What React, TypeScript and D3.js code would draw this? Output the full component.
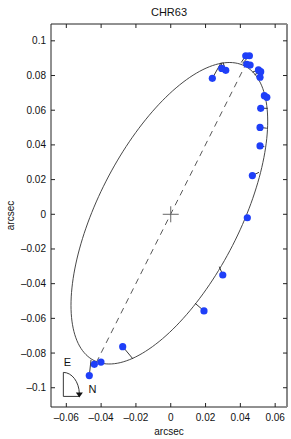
import React from 'react';
import * as d3 from 'd3';

// observed positions (arcsec)
const obsX = [0.0239, 0.0293, 0.0316, 0.0431, 0.0452, 0.0437, 0.0456, 0.0504, 0.0517, 0.0513, 0.0538, 0.0552,
  0.0517, 0.0513, 0.0513, 0.0469, 0.0440, 0.0299, 0.0191, -0.0276, -0.0401, -0.0439, -0.0468];
const obsY = [0.0784, 0.0841, 0.0830, 0.0914, 0.0914, 0.0865, 0.0860, 0.0832, 0.0822, 0.0790, 0.0684, 0.0674,
  0.0611, 0.0501, 0.0394, 0.0223, -0.0020, -0.0350, -0.0557, -0.0763, -0.0852, -0.0865, -0.0930];
// predicted positions on the orbit (residual line ends)
const predX = [0.0287, 0.0290, 0.0300, 0.0405, 0.0412, 0.0418, 0.0440, 0.0470, 0.0482, 0.0495, 0.0545, 0.0548,
  0.0557, 0.0552, 0.0538, 0.0507, 0.0425, 0.0279, 0.0140, -0.0217, -0.0395, -0.0450, -0.0458];
const predY = [0.0870, 0.0874, 0.0876, 0.0875, 0.0870, 0.0868, 0.0860, 0.0820, 0.0805, 0.0785, 0.0690, 0.0670,
  0.0611, 0.0496, 0.0390, 0.0242, -0.0015, -0.0302, -0.0513, -0.0834, -0.0862, -0.0850, -0.0839];

// apparent orbit: centre, semi-axes, position angle of major axis (deg from +x)
const orbitCenter = [-0.0008, 0.0006];
const orbitAxes = [0.0953, 0.0408];
const orbitAngle = 63.0;
// line of nodes end points
const nodesX = [-0.0428, 0.0428];
const nodesY = [-0.0855, 0.0858];

const xTicks = [-0.06, -0.04, -0.02, 0, 0.02, 0.04, 0.06];
const yTicks = [-0.1, -0.08, -0.06, -0.04, -0.02, 0, 0.02, 0.04, 0.06, 0.08, 0.1];

const W = 291, H = 439;
const m = { left: 51, right: 287, top: 24, bottom: 407 };
const font = 'Liberation Sans, Arial, sans-serif';

const fmt = (v: number) => {
  if (Math.abs(v) < 1e-9) return '0';
  const s = String(+Math.abs(v).toFixed(2));
  return (v < 0 ? '\u2013' : '') + s;
};

export default function App() {
  const x = d3.scaleLinear().domain([-0.0688, 0.0668]).range([m.left, m.right]);
  const y = d3.scaleLinear().domain([-0.1111, 0.1097]).range([m.bottom, m.top]);

  const th = (orbitAngle * Math.PI) / 180;
  const ts = d3.range(0, 361, 2).map(d => (d * Math.PI) / 180);
  const orbitPts: [number, number][] = ts.map(t => {
    const u = orbitAxes[0] * Math.cos(t), v = orbitAxes[1] * Math.sin(t);
    return [orbitCenter[0] + u * Math.cos(th) - v * Math.sin(th), orbitCenter[1] + u * Math.sin(th) + v * Math.cos(th)];
  });
  const line = d3.line<[number, number]>().x(d => x(d[0])).y(d => y(d[1]));

  const tl = 4;
  // compass origin
  const cx = x(-0.0617), cy = y(-0.105);

  return (
    <svg width={W} height={H} style={{ position: 'absolute', left: 0, top: 0, background: '#fff' }} fontFamily={font}>
      <text x={(m.left + m.right) / 2} y={16} textAnchor="middle" fontSize={11} fill="#111">CHR63</text>

      {/* orbit */}
      <path d={line(orbitPts) || ''} fill="none" stroke="#333" strokeWidth={0.9} />
      <line x1={x(nodesX[0])} y1={y(nodesY[0])} x2={x(nodesX[1])} y2={y(nodesY[1])}
        stroke="#444" strokeWidth={0.9} strokeDasharray="6,5" />
      {/* primary */}
      <line x1={x(0) - 8} x2={x(0) + 8} y1={y(0)} y2={y(0)} stroke="#666" strokeWidth={1} />
      <line x1={x(0)} x2={x(0)} y1={y(0) - 8} y2={y(0) + 8} stroke="#666" strokeWidth={1} />

      {obsX.map((_, i) => (
        <line key={'r' + i} x1={x(obsX[i])} y1={y(obsY[i])} x2={x(predX[i])} y2={y(predY[i])} stroke="#222" strokeWidth={0.9} />
      ))}
      {obsX.map((_, i) => (
        <circle key={'p' + i} cx={x(obsX[i])} cy={y(obsY[i])} r={3.6} fill="#1f3ff8" />
      ))}

      {/* compass */}
      <line x1={cx} y1={cy - 24} x2={cx} y2={cy} stroke="#222" strokeWidth={0.9} />
      <line x1={cx} y1={cy} x2={cx + 16} y2={cy} stroke="#222" strokeWidth={0.9} />
      <path d={`M${cx},${cy - 24} A16,22 0 0 1 ${cx + 16},${cy - 3}`} fill="none" stroke="#222" strokeWidth={0.9} />
      <path d={`M${cx + 12.5},${cy - 4} L${cx + 19.5},${cy - 4} L${cx + 16},${cy + 1} Z`} fill="#111" />
      <text x={cx + 4} y={cy - 30} textAnchor="middle" fontSize={11} fill="#111">E</text>
      <text x={cx + 29} y={cy - 3} textAnchor="middle" fontSize={11} fill="#111">N</text>

      {/* axes box */}
      <line x1={m.left} x2={m.right} y1={m.top} y2={m.top} stroke="#222" strokeWidth={1} />
      <line x1={m.left} x2={m.right} y1={m.bottom} y2={m.bottom} stroke="#222" strokeWidth={1} />
      <line x1={m.left} x2={m.left} y1={m.top} y2={m.bottom} stroke="#222" strokeWidth={1} />
      <line x1={m.right} x2={m.right} y1={m.top} y2={m.bottom} stroke="#888" strokeWidth={2} />

      {xTicks.map(t => (
        <g key={'xt' + t}>
          <line x1={x(t)} x2={x(t)} y1={m.bottom} y2={m.bottom - tl} stroke="#222" />
          <line x1={x(t)} x2={x(t)} y1={m.top} y2={m.top + tl} stroke="#222" />
          <text x={x(t)} y={m.bottom + 14} textAnchor="middle" fontSize={10} fill="#111">{fmt(t)}</text>
        </g>
      ))}
      {yTicks.map(t => (
        <g key={'yt' + t}>
          <line x1={m.left} x2={m.left + tl} y1={y(t)} y2={y(t)} stroke="#222" />
          <line x1={m.right} x2={m.right - tl} y1={y(t)} y2={y(t)} stroke="#222" />
          <text x={m.left - 5} y={y(t) + 3.5} textAnchor="end" fontSize={10} fill="#111">{fmt(t)}</text>
        </g>
      ))}

      <text x={(m.left + m.right) / 2} y={435} textAnchor="middle" fontSize={10} fill="#111">arcsec</text>
      <text transform={`translate(14,${(m.top + m.bottom) / 2}) rotate(-90)`} textAnchor="middle" fontSize={10} fill="#111">arcsec</text>
    </svg>
  );
}
